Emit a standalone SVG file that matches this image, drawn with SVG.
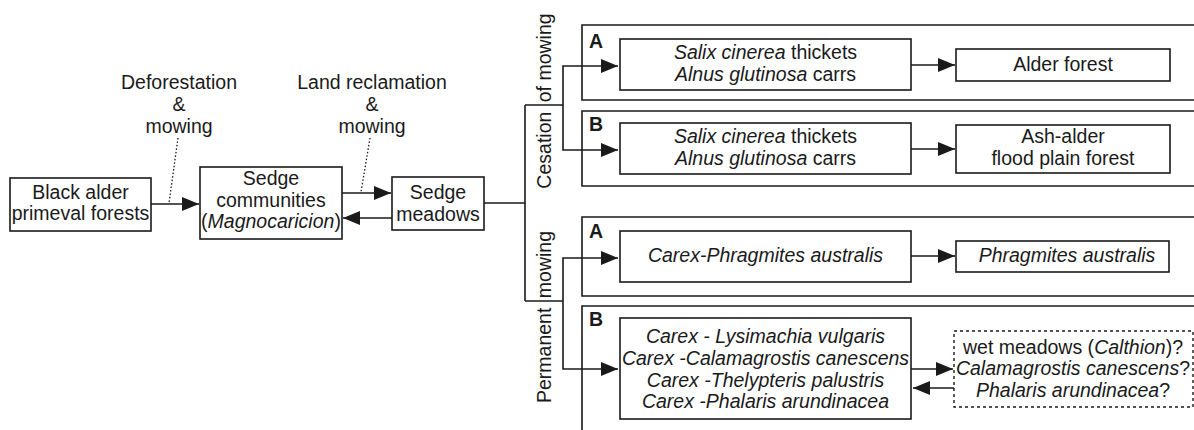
<svg xmlns="http://www.w3.org/2000/svg" width="1194" height="430" viewBox="0 0 1194 430">
<defs>
<marker id="ah" markerUnits="userSpaceOnUse" markerWidth="17" markerHeight="14" refX="17" refY="7" orient="auto">
<path d="M0,0 L17,7 L0,14 z" fill="#1a1a1a"/>
</marker>
<style>
text{font-family:"Liberation Sans",Arial,sans-serif;font-size:19.5px;fill:#1a1a1a;text-anchor:middle}
.i{font-style:italic}
.lbl{font-weight:bold;font-size:19.5px;text-anchor:start}
.box{fill:#fff;stroke:#1a1a1a;stroke-width:1.6}
.frame{fill:none;stroke:#1a1a1a;stroke-width:1.6}
.dash{fill:#fff;stroke:#1a1a1a;stroke-width:1.4;stroke-dasharray:3,3}
.c{fill:none;stroke:#1a1a1a;stroke-width:1.6}
.ca{fill:none;stroke:#1a1a1a;stroke-width:1.6;marker-end:url(#ah)}
.dot{fill:none;stroke:#1a1a1a;stroke-width:1.3;stroke-dasharray:1.5,2}
</style>
</defs>
<rect width="1194" height="430" fill="#fff"/>

<g id="frames">
<path class="frame" d="M1194,25 H582 V100 H1194"/>
<path class="frame" d="M1194,111 H582 V186 H1194"/>
<path class="frame" d="M1194,217 H582 V296 H1194"/>
<path class="frame" d="M1194,306 H582 V430"/>
<text class="lbl" x="589" y="48">A</text>
<text class="lbl" x="589" y="131">B</text>
<text class="lbl" x="589" y="238">A</text>
<text class="lbl" x="589" y="326">B</text>
</g>

<g id="labels">
<text x="179" y="89">Deforestation</text>
<text x="179" y="111">&amp;</text>
<text x="179" y="133">mowing</text>
<text x="372" y="89">Land reclamation</text>
<text x="372" y="111">&amp;</text>
<text x="372" y="133">mowing</text>
<text transform="translate(551,101) rotate(-90)">Cesation <tspan dx="4">of mowing</tspan></text>
<text transform="translate(551,317) rotate(-90)">Permanent <tspan dx="4">mowing</tspan></text>
</g>

<g id="connectors">
<path class="dot" d="M178,138 L169,203"/>
<path class="dot" d="M370,138 L361,192"/>
<path class="ca" d="M151,204 H199"/>
<path class="ca" d="M342,193 H391"/>
<path class="ca" d="M392,218 H343"/>
<path class="c" d="M484,203 H525 M525,105 V301 M525,105 H563 M525,301 H563"/>
<path class="ca" d="M563,105 V66 H618"/>
<path class="ca" d="M563,105 V150 H618"/>
<path class="ca" d="M563,301 V258 H618"/>
<path class="ca" d="M563,301 V369 H618"/>
<path class="ca" d="M911,65 H955"/>
<path class="ca" d="M911,149 H955"/>
<path class="ca" d="M911,256 H955"/>
<path class="ca" d="M911,369 H953"/>
<path class="ca" d="M954,388 H913"/>
</g>

<g id="black-alder">
<rect class="box" x="10" y="178" width="141" height="53"/>
<text x="80.5" y="199">Black alder</text>
<text x="80.5" y="220">primeval forests</text>
</g>

<g id="sedge-communities">
<rect class="box" x="200" y="167" width="142" height="72"/>
<text x="271" y="185">Sedge</text>
<text x="271" y="207">communities</text>
<text x="271" y="228">(<tspan class="i">Magnocaricion</tspan>)</text>
</g>

<g id="sedge-meadows">
<rect class="box" x="392" y="177" width="92" height="53"/>
<text x="438" y="199">Sedge</text>
<text x="438" y="221">meadows</text>
</g>

<g id="cA-salix">
<rect class="box" x="620" y="39" width="291" height="51"/>
<text x="765.5" y="59"><tspan class="i">Salix cinerea</tspan> thickets</text>
<text x="765.5" y="81"><tspan class="i">Alnus glutinosa</tspan> carrs</text>
</g>

<g id="cA-alder">
<rect class="box" x="956" y="49" width="214" height="32"/>
<text x="1063" y="71">Alder forest</text>
</g>

<g id="cB-salix">
<rect class="box" x="620" y="123" width="291" height="51"/>
<text x="765.5" y="143"><tspan class="i">Salix cinerea</tspan> thickets</text>
<text x="765.5" y="165"><tspan class="i">Alnus glutinosa</tspan> carrs</text>
</g>

<g id="cB-ash">
<rect class="box" x="956" y="125" width="214" height="48"/>
<text x="1063" y="143">Ash-alder</text>
<text x="1063" y="165">flood plain forest</text>
</g>

<g id="pA-carex">
<rect class="box" x="620" y="231" width="291" height="51"/>
<text class="i" x="765.5" y="262">Carex-Phragmites australis</text>
</g>

<g id="pA-phrag">
<rect class="box" x="956" y="241" width="213" height="31"/>
<text class="i" x="1067" y="262">Phragmites australis</text>
</g>

<g id="pB-carex">
<rect class="box" x="620" y="318" width="291" height="101"/>
<text class="i" x="765.5" y="343">Carex - Lysimachia vulgaris</text>
<text class="i" x="765.5" y="365">Carex -Calamagrostis canescens</text>
<text class="i" x="765.5" y="387">Carex -Thelypteris palustris</text>
<text class="i" x="765.5" y="408">Carex -Phalaris arundinacea</text>
</g>

<g id="pB-wet">
<rect class="dash" x="954" y="331" width="239" height="76"/>
<text x="1073" y="354">wet meadows (<tspan class="i">Calthion</tspan>)?</text>
<text x="1073" y="375"><tspan class="i">Calamagrostis canescens</tspan>?</text>
<text x="1073" y="397"><tspan class="i">Phalaris arundinacea</tspan>?</text>
</g>
</svg>
